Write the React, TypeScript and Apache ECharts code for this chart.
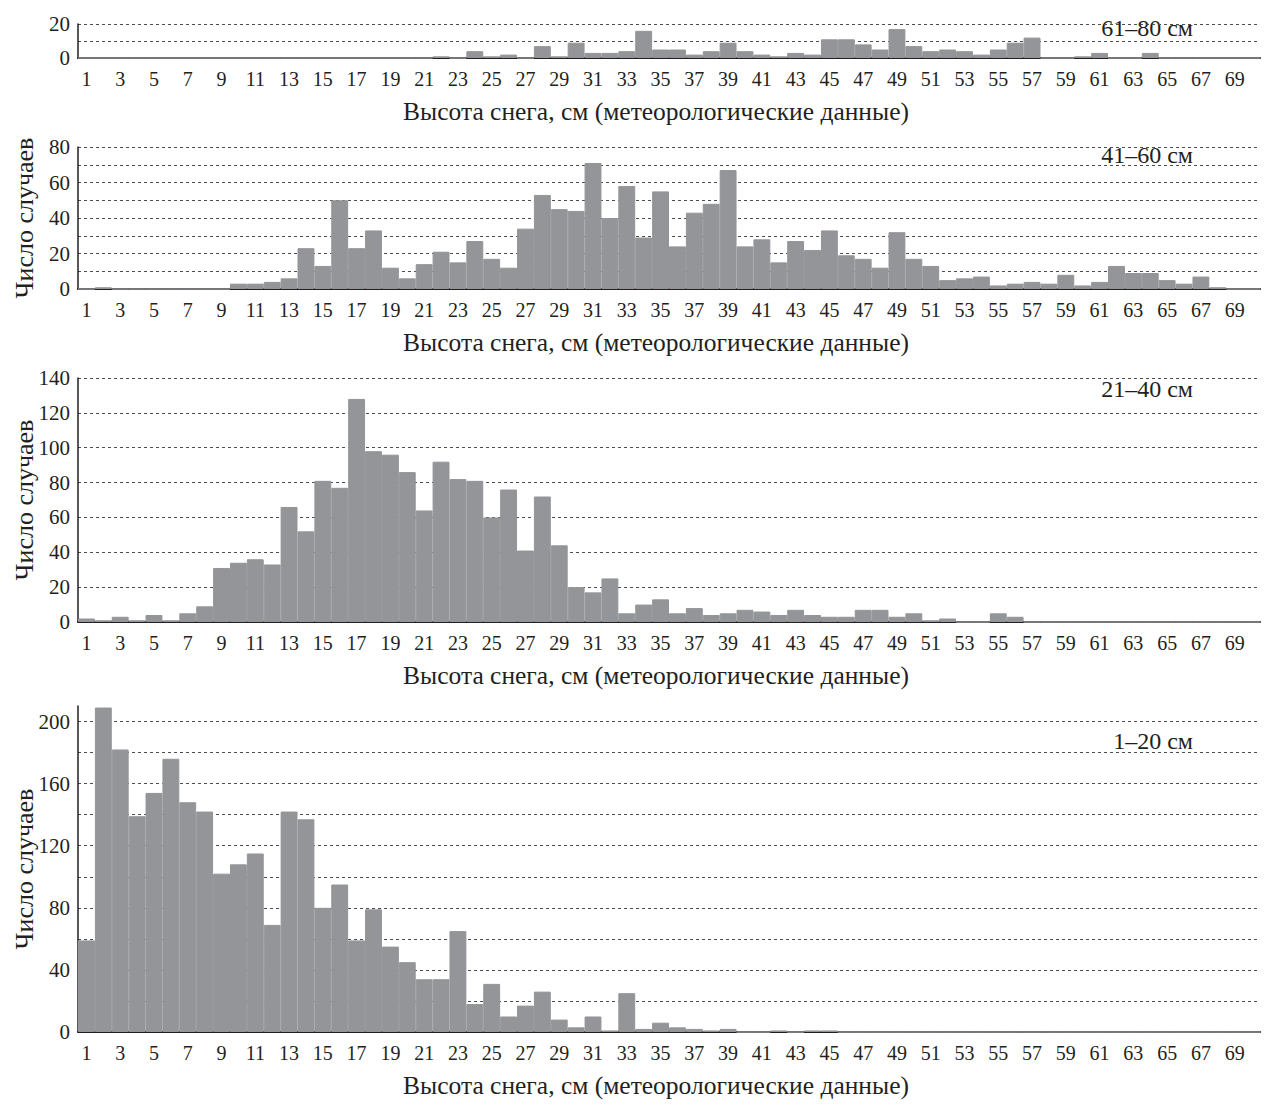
import React, { useEffect, useRef } from "react";
import * as echarts from "echarts";

// Snow depth categories, cm (1..70)
const categories: string[] = Array.from({ length: 70 }, (_, i) => String(i + 1));

// 61–80 cm panel
const counts61to80 = [
  0, 0, 0, 0, 0, 0, 0, 0, 0, 0,
  0, 0, 0, 0, 0, 0, 0, 0, 0, 0,
  0, 1, 0, 4, 1, 2, 0, 7, 1, 9,
  3, 3, 4, 16, 5, 5, 2, 4, 9, 4,
  2, 1, 3, 2, 11, 11, 8, 5, 17, 7,
  4, 5, 4, 2, 5, 9, 12, 0, 0, 1,
  3, 0, 0, 3, 0, 0, 0, 0, 0, 0,
];

// 41–60 cm panel
const counts41to60 = [
  0, 1, 0, 0, 0, 0, 0, 0, 0, 3,
  3, 4, 6, 23, 13, 50, 23, 33, 12, 6,
  14, 21, 15, 27, 17, 12, 34, 53, 45, 44,
  71, 40, 58, 29, 55, 24, 43, 48, 67, 24,
  28, 15, 27, 22, 33, 19, 17, 12, 32, 17,
  13, 5, 6, 7, 2, 3, 4, 3, 8, 2,
  4, 13, 9, 9, 5, 3, 7, 1, 0, 0,
];

// 21–40 cm panel
const counts21to40 = [
  2, 1, 3, 1, 4, 1, 5, 9, 31, 34,
  36, 33, 66, 52, 81, 77, 128, 98, 96, 86,
  64, 92, 82, 81, 60, 76, 41, 72, 44, 20,
  17, 25, 5, 10, 13, 5, 8, 4, 5, 7,
  6, 4, 7, 4, 3, 3, 7, 7, 3, 5,
  1, 2, 0, 0, 5, 3, 0, 0, 0, 0,
  0, 0, 0, 0, 0, 0, 0, 0, 0, 0,
];

// 1–20 cm panel
const counts1to20 = [
  59, 209, 182, 139, 154, 176, 148, 142, 102, 108,
  115, 69, 142, 137, 80, 95, 59, 79, 55, 45,
  34, 34, 65, 18, 31, 10, 17, 26, 8, 3,
  10, 1, 25, 2, 6, 3, 2, 1, 2, 0,
  0, 1, 0, 1, 1, 0, 0, 0, 0, 0,
  0, 0, 0, 0, 0, 0, 0, 0, 0, 0,
  0, 0, 0, 0, 0, 0, 0, 0, 0, 0,
];

const panelSeries = [counts61to80, counts41to60, counts21to40, counts1to20];
const panelLabels = ["61–80 см", "41–60 см", "21–40 см", "1–20 см"];
const yMax = [20, 80, 140, 210];
const yInterval = [10, 10, 20, 20];
const yLabelStep = [20, 20, 20, 40];
const xAxisTitle = "Высота снега, см (метеорологические данные)";
const yAxisTitle = "Число случаев";

const FONT = '"Liberation Serif", "Times New Roman", serif';
const INK = "#231f20";
const BAR = "#939598";

const panelLayout = [
  { top: 24, height: 34, labelY: 28 },
  { top: 147, height: 142, labelY: 155 },
  { top: 378, height: 244, labelY: 389 },
  { top: 706, height: 326, labelY: 741 },
];

export default function App() {
  const ref = useRef<HTMLDivElement>(null);

  useEffect(() => {
    document.body.style.margin = "0";
    if (!ref.current) return;
    const chart = echarts.init(ref.current, null, { renderer: "svg" });

    const option: any = {
      animation: false,
      backgroundColor: "#ffffff",
      grid: panelLayout.map((p) => ({
        left: 78,
        right: 15,
        top: p.top,
        height: p.height,
        containLabel: false,
        outerBoundsMode: "none",
      })),
      xAxis: panelLayout.map((_, i) => ({
        type: "category",
        gridIndex: i,
        data: categories,
        boundaryGap: true,
        axisLine: { show: true, lineStyle: { color: INK, width: 2 } },
        axisTick: { show: false },
        axisLabel: {
          interval: 1,
          fontFamily: FONT,
          fontSize: 20,
          color: INK,
          margin: 11,
        },
        name: xAxisTitle,
        nameLocation: "middle",
        nameGap: 40,
        nameMoveOverlap: false,
        nameTextStyle: {
          fontFamily: FONT,
          fontSize: 25.5,
          color: INK,
          padding: [0, 26, 0, 0],
        },
      })),
      yAxis: panelLayout.map((_, i) => ({
        type: "value",
        gridIndex: i,
        min: 0,
        max: yMax[i],
        interval: yInterval[i],
        axisLine: { show: true, lineStyle: { color: INK, width: 1.5 } },
        axisTick: { show: false },
        splitLine: {
          show: true,
          showMaxLine: i !== 3,
          lineStyle: { type: [3, 3], color: "#4d4d4d", width: 1 },
        },
        axisLabel: {
          fontFamily: FONT,
          fontSize: 21,
          color: INK,
          margin: 8,
          formatter: (v: number) => (v % yLabelStep[i] === 0 ? String(v) : ""),
        },
        name: i > 0 ? yAxisTitle : "",
        nameLocation: "middle",
        nameRotate: 90,
        nameGap: 41,
        nameMoveOverlap: false,
        nameTextStyle: { fontFamily: FONT, fontSize: 26, color: INK },
      })),
      series: panelSeries.map((data, i) => ({
        type: "bar",
        xAxisIndex: i,
        yAxisIndex: i,
        data,
        barCategoryGap: "0%",
        itemStyle: { color: BAR, borderColor: BAR, borderWidth: 1 },
      })),
      graphic: panelLayout.map((p, i) => ({
        type: "text",
        x: 1193,
        y: p.labelY,
        style: {
          text: panelLabels[i],
          fontFamily: FONT,
          fontSize: 24,
          fill: INK,
          align: "right",
          verticalAlign: "middle",
        },
      })),
    };

    chart.setOption(option);
    return () => chart.dispose();
  }, []);

  return <div ref={ref} style={{ width: 1275, height: 1108 }} />;
}
